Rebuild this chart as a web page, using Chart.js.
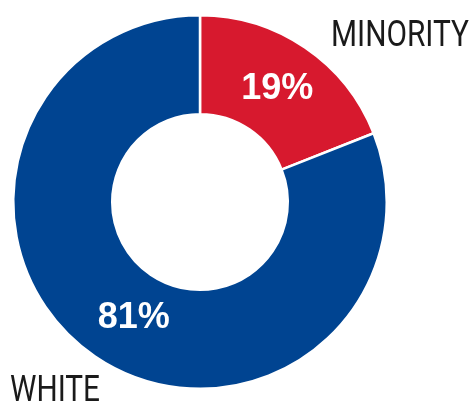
<!DOCTYPE html>
<html>
<head>
<meta charset="utf-8">
<script src="https://cdn.jsdelivr.net/npm/chart.js@4/dist/chart.umd.min.js"></script>
<style>
html,body{margin:0;padding:0;background:#fff;}
#wrap{width:474px;height:403px;position:relative;}
</style>
</head>
<body>
<div id="wrap"><canvas id="c" width="474" height="403"></canvas></div>
<script>
const categories = ['MINORITY', 'WHITE'];
const shares = [19, 81];
const colors = ['#D7192E', '#004491'];

const labelPlugin = {
  id: 'labels',
  afterDraw(chart) {
    const ctx = chart.ctx;
    const meta = chart.getDatasetMeta(0);
    ctx.save();
    // percentage labels inside arcs
    ctx.fillStyle = '#ffffff';
    ctx.font = 'bold 36px "Liberation Sans", Arial, sans-serif';
    ctx.textAlign = 'center';
    ctx.textBaseline = 'middle';
    const offsets = [[0, 1], [11, 3]];
    meta.data.forEach((arc, i) => {
      const p = arc.tooltipPosition();
      ctx.fillText(shares[i] + '%', p.x + offsets[i][0], p.y + offsets[i][1]);
    });
    // category labels
    ctx.fillStyle = '#1a1a1a';
    ctx.font = '400 36px Roboto, sans-serif';
    ctx.textAlign = 'left';
    ctx.textBaseline = 'alphabetic';
    const spots = [{x: 331, y: 46, w: 138}, {x: 10, y: 401, w: 90}];
    categories.forEach((t, i) => {
      const s = spots[i];
      const m = ctx.measureText(t).width;
      ctx.save();
      ctx.translate(s.x, s.y);
      ctx.scale(s.w / m, 1);
      ctx.fillText(t, 0, 0);
      ctx.restore();
    });
    ctx.restore();
  }
};

new Chart(document.getElementById('c'), {
  type: 'doughnut',
  data: {
    labels: categories,
    datasets: [{
      data: shares,
      backgroundColor: colors,
      borderColor: '#ffffff',
      borderWidth: 2.5,
      hoverOffset: 0
    }]
  },
  options: {
    responsive: false,
    animation: false,
    cutout: '47%',
    layout: {padding: {left: 12, right: 86, top: 14, bottom: 13}},
    plugins: {legend: {display: false}, tooltip: {enabled: false}}
  },
  plugins: [labelPlugin]
});
</script>
</body>
</html>
